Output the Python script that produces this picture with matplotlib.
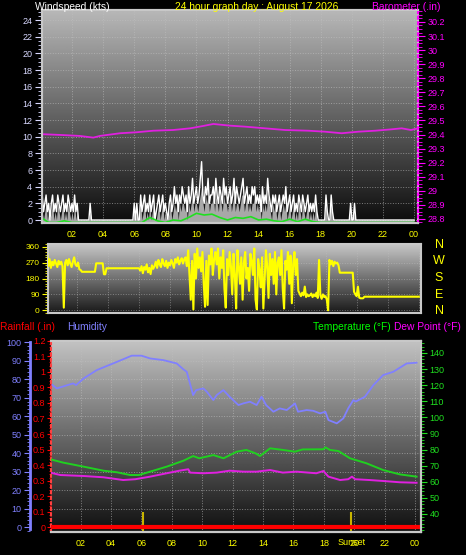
import numpy as np
import matplotlib.pyplot as plt
from matplotlib.ticker import MultipleLocator

plt.rcParams['font.family'] = ['Liberation Sans', 'DejaVu Sans']

W, H = 466, 555
title = '24 hour graph day : August 17 2026'
time_ticks = list(range(2, 25, 2))
time_labels = ['02', '04', '06', '08', '10', '12', '14', '16', '18', '20', '22', '00']
baro_ticks = [28.8, 28.9, 29.0, 29.1, 29.2, 29.3, 29.4, 29.5, 29.6, 29.7, 29.8, 29.9, 30.0, 30.1, 30.2]
baro_labels = ['28.8', '28.9', '29', '29.1', '29.2', '29.3', '29.4', '29.5', '29.6', '29.7',
               '29.8', '29.9', '30', '30.1', '30.2']
rain_ticks = [0, 0.1, 0.2, 0.3, 0.4, 0.5, 0.6, 0.7, 0.8, 0.9, 1.0, 1.1, 1.2]
rain_labels = ['0', '0.1', '0.2', '0.3', '0.4', '0.5', '0.6', '0.7', '0.8', '0.9', '1', '1.1', '1.2']

# wind speed (kts), 5 minute samples, one row per hour
gust = [0, 3, 1, 2, 3, 1, 2, 0, 2, 3, 1, 2,
        1, 3, 2, 1, 2, 3, 1, 2, 1, 3, 2, 1,
        2, 1, 3, 1, 2, 0, 0, 0, 0, 0, 0, 0,
        0, 0, 2, 0, 0, 0, 0, 0, 0, 0, 0, 0,
        0, 0, 0, 0, 0, 0, 0, 0, 0, 0, 0, 0,
        0, 0, 0, 0, 0, 0, 0, 0, 0, 0, 0, 0,
        2, 0, 2, 0, 0, 3, 1, 2, 3, 1, 2, 1,
        3, 1, 2, 3, 0, 1, 2, 3, 1, 2, 3, 1,
        2, 1, 0, 2, 3, 1, 2, 4, 2, 3, 1, 3,
        2, 4, 3, 2, 3, 1, 4, 2, 3, 5, 2, 3,
        4, 2, 3, 5, 7, 3, 2, 4, 3, 5, 2, 3,
        3, 4, 2, 5, 3, 2, 4, 3, 2, 5, 3, 4,
        2, 3, 4, 2, 3, 5, 2, 4, 3, 2, 3, 4,
        5, 2, 3, 4, 2, 3, 2, 4, 3, 4, 2, 3,
        2, 3, 1, 4, 2, 3, 2, 5, 3, 2, 1, 3,
        2, 3, 1, 2, 3, 1, 2, 3, 2, 4, 1, 2,
        3, 1, 2, 3, 1, 2, 1, 3, 2, 1, 3, 2,
        1, 2, 3, 1, 2, 1, 2, 1, 3, 1, 0, 0,
        0, 0, 0, 0, 3, 1, 0, 0, 3, 1, 0, 0,
        0, 0, 0, 0, 0, 0, 0, 0, 0, 0, 0, 2,
        0, 0, 2, 0, 0, 0, 0, 0, 0, 0, 0, 0,
        0, 0, 0, 0, 0, 0, 0, 0, 0, 0, 0, 0,
        0, 0, 0, 0, 0, 0, 0, 0, 0, 0, 0, 0,
        0, 0, 0, 0, 0, 0, 0, 0, 0, 0, 0, 0,
        0]
speed = [0, 1, 0, 1, 2, 0, 1, 0, 1, 2, 0, 1,
         0, 2, 1, 0, 1, 2, 0, 1, 0, 2, 1, 0,
         1, 0, 2, 0, 1, 0, 0, 0, 0, 0, 0, 0,
         0, 0, 1, 0, 0, 0, 0, 0, 0, 0, 0, 0,
         0, 0, 0, 0, 0, 0, 0, 0, 0, 0, 0, 0,
         0, 0, 0, 0, 0, 0, 0, 0, 0, 0, 0, 0,
         1, 0, 1, 0, 0, 2, 0, 1, 2, 0, 1, 0,
         2, 0, 1, 2, 0, 0, 1, 2, 0, 1, 2, 0,
         1, 0, 0, 1, 2, 0, 1, 2, 1, 2, 0, 2,
         1, 2, 2, 1, 2, 0, 2, 1, 2, 3, 1, 2,
         2, 1, 2, 3, 4, 2, 1, 3, 2, 3, 1, 2,
         2, 3, 1, 3, 2, 1, 3, 2, 1, 3, 2, 2,
         1, 2, 3, 1, 2, 3, 1, 2, 2, 1, 2, 3,
         3, 1, 2, 3, 1, 2, 1, 2, 2, 3, 1, 2,
         1, 2, 0, 2, 1, 2, 1, 3, 2, 1, 0, 2,
         1, 2, 0, 1, 2, 0, 1, 2, 1, 2, 0, 1,
         2, 0, 1, 2, 0, 1, 0, 2, 1, 0, 2, 1,
         0, 1, 2, 0, 1, 0, 1, 0, 2, 0, 0, 0,
         0, 0, 0, 0, 2, 0, 0, 0, 2, 0, 0, 0,
         0, 0, 0, 0, 0, 0, 0, 0, 0, 0, 0, 1,
         0, 0, 1, 0, 0, 0, 0, 0, 0, 0, 0, 0,
         0, 0, 0, 0, 0, 0, 0, 0, 0, 0, 0, 0,
         0, 0, 0, 0, 0, 0, 0, 0, 0, 0, 0, 0,
         0, 0, 0, 0, 0, 0, 0, 0, 0, 0, 0, 0,
         0]
# average wind (green), half hourly
avg_wind = [0.3, -0.3, -0.3, -0.1, -0.3, -0.3, -0.3, -0.3, -0.3, -0.3, -0.3, -0.3,
            -0.3, -0.3, 0.3, -0.1, -0.3, 0.0, -0.1, 0.3, 0.8, 0.6, 0.7, 0.3,
            0.0, 0.3, 0.2, 0.4, 0.0, 0.1, -0.1, -0.2, 0.1, -0.2, 0.1, -0.2,
            -0.3, -0.3, -0.3, -0.3, -0.3, -0.3, -0.3, -0.3, -0.3, -0.3, -0.3, -0.3, -0.3]

# barometer (in)
baro_h = [0.15, 1.23, 2.5, 3.37, 3.8, 5.09, 6.16, 7.23, 8.5, 9.6, 10.45, 11.09, 11.7,
          12.16, 13.12, 14.41, 15.7, 17.2, 18.27, 19.34, 20.4, 21.5, 22.56, 23.2, 23.8, 24.25]
baro = [29.402, 29.397, 29.39, 29.378, 29.39, 29.409, 29.416, 29.427, 29.432, 29.444, 29.461,
        29.475, 29.468, 29.463, 29.456, 29.444, 29.432, 29.427, 29.42, 29.409, 29.42, 29.427,
        29.437, 29.444, 29.432, 29.444]

# wind direction (deg), 5 minute samples
wdir = [270, 330, 250, 290, 240, 275, 255, 285, 265, 245, 280, 260,
        275, 250, 15, 270, 285, 255, 290, 265, 245, 275, 300, 260,
        250, 270, 232, 228, 218, 218, 218, 218, 218, 218, 218, 218,
        218, 218, 218, 266, 266, 266, 266, 266, 266, 204, 204, 238,
        238, 238, 238, 238, 238, 238, 238, 238, 238, 238, 238, 238,
        238, 238, 238, 238, 238, 238, 238, 238, 238, 238, 238, 238,
        238, 225, 250, 210, 245, 230, 260, 215, 240, 205, 255, 235,
        250, 275, 240, 285, 260, 245, 290, 265, 250, 280, 240, 270,
        255, 285, 265, 240, 290, 270, 300, 260, 280, 295, 265, 290,
        300, 250, 340, 200, 60, 280, 5, 320, 180, 350, 240, 300,
        220, 330, 150, 20, 280, 30, 310, 260, 350, 200, 290, 330,
        260, 350, 180, 300, 240, 340, 120, 15, 290, 200, 330, 250,
        90, 320, 200, 10, 340, 250, 150, 300, 60, 270, 330, 180,
        240, 110, 320, 280, 200, 350, 60, 5, 290, 230, 130, 300,
        10, 180, 340, 250, 70, 320, 200, 290, 150, 330, 90, 270,
        300, 200, 340, 120, 10, 280, 230, 330, 150, 310, 40, 260,
        330, 200, 290, 110, 95, 80, 100, 85, 134, 75, 90, 80,
        85, 95, 75, 90, 80, 100, 70, 285, 85, 65, 90, 75,
        80, 60, 0, 285, 260, 280, 250, 275, 265, 270, 255, 213,
        213, 213, 213, 213, 213, 213, 213, 213, 213, 213, 105, 90,
        80, 134, 72, 68, 68, 68, 77, 77, 77, 77, 77, 77,
        77, 77, 77, 77, 77, 77, 77, 77, 77, 77, 77, 77,
        77, 77, 77, 77, 77, 77, 77, 77, 77, 77, 77, 77,
        77, 77, 77, 77, 77, 77, 77, 77, 77, 77, 77, 77,
        77]

# humidity (%)
hum_h = [0.0, 0.43, 1.5, 1.7, 2.2, 3.06, 4.4, 5.36, 6.0, 6.57, 7.44, 8.32, 8.76, 8.98, 9.4,
         9.6, 10.07, 10.3, 10.73, 10.95, 11.39, 11.8, 12.38, 12.7, 13.14, 13.58, 13.9, 14.2,
         14.68, 15.1, 15.56, 16.1, 16.3, 16.87, 17.3, 17.75, 18.1, 18.3, 18.85, 19.28, 19.6,
         19.94, 20.1, 20.7, 21.26, 21.9, 22.57, 23.45, 24.1]
hum = [77.8, 75.1, 77.8, 76.9, 80.5, 85, 89.5, 92.8, 92.8, 91.3, 90.4, 88.6, 85.4, 84.1, 71.5,
       74.2, 75.1, 73.3, 68.8, 71.5, 74.2, 70.6, 66.1, 67, 67.9, 66.1, 70.6, 66.1,
       62.5, 64.3, 63.4, 67, 62.5, 63.4, 63, 61.6, 62.5, 58, 56.2, 58.9, 64.3,
       68.8, 68, 70.6, 76.9, 82.3, 84.1, 88.6, 89]

# temperature (F)
temp_h = [0.0, 0.86, 2.2, 3.5, 4.4, 5.25, 5.84, 6.57, 7.66, 8.76, 9.4, 9.8, 10.73, 11.4,
          12.27, 12.9, 13.5, 13.8, 14.46, 15.3, 16.1, 16.6, 17.97, 18.1, 18.4, 18.96,
          19.72, 20.8, 21.9, 23.0, 24.1]
temp = [74, 71.9, 69.4, 66.9, 65.9, 64.2, 64.2, 66.3, 69.4, 73.1, 76, 74.6, 76.6, 74.6,
        78.7, 79.8, 77.7, 76, 80.8, 79.8, 78.7, 80.1, 80.2, 81.4, 79.8, 79.1,
        74.6, 71.5, 67.3, 64.6, 63.2]

# dew point (F)
dew_h = [0.0, 0.66, 2.2, 3.5, 4.8, 5.6, 6.57, 7.66, 8.5, 9.08, 9.2, 10.07, 10.95, 11.8,
         12.7, 13.58, 14.46, 15.3, 16.2, 17.5, 17.97, 18.3, 19.07, 19.6, 19.85, 20.05,
         21.0, 21.9, 23.0, 24.1]
dew = [65.7, 64.2, 63.6, 62.8, 61.1, 61.6, 63.2, 65.3, 66.9, 67.8, 65.7, 65.3, 65.7, 66.9,
       66.3, 66.3, 67.3, 65.7, 66.3, 65.3, 66.7, 63.2, 61.1, 61.6, 63.2, 61.6,
       61.1, 60.5, 59.7, 59.4]

rain_h = [0.0, 24.4]
rain = [0.0, 0.0]
sunrise, sunset = 6.08, 19.8

YEL = '#ffff00'
MAG = '#ff00ff'
GRN = '#00ff00'
BLU = '#8080ff'
FS = 7.4


def add_bg(ax, lo, hi):
    g = np.linspace(lo, hi, 256).reshape(-1, 1)
    ax.imshow(g, extent=[0, 1, 0, 1], transform=ax.transAxes, aspect='auto',
              cmap='gray', vmin=0, vmax=1, origin='lower', zorder=0)


def frame(ax, col='#c8c8c8'):
    for s in ax.spines.values():
        s.set_color(col)
        s.set_linewidth(1.5)


fig = plt.figure(figsize=(W / 100, H / 100), dpi=100, facecolor='black')

# ---- windspeed / barometer ----
ax1 = fig.add_axes([42 / W, 1 - 223 / H, 376 / W, 213 / H])
ax1.set_facecolor('black')
add_bg(ax1, 0.05, 0.72)
ax1.set_xlim(0.07, 24.25)
ax1.set_ylim(-0.36, 25.2)
wind_h = np.arange(len(gust)) / 12.0
ax1.fill_between(wind_h, speed, -0.36, color='#a8a8a8', lw=0, zorder=2)
ax1.plot(wind_h, gust, color='white', lw=1, zorder=3)
ax1.plot(np.arange(len(avg_wind)) / 2.0, avg_wind, color='#20e020', lw=1.2, zorder=4)
ax1.set_xticks(time_ticks)
ax1.set_xticklabels(time_labels)
ax1.yaxis.set_major_locator(MultipleLocator(2))
ax1.yaxis.set_minor_locator(MultipleLocator(0.5))
ax1.tick_params(axis='x', length=0, colors=YEL, labelsize=6.5, pad=5)
ax1.tick_params(axis='y', which='both', colors='#d8d8ff', labelsize=6.5, direction='out')
ax1.tick_params(axis='y', which='major', length=5, pad=2)
ax1.tick_params(axis='y', which='minor', length=3)
ax1.grid(True, color='#c0c0c0', ls=':', lw=0.7, alpha=0.6)
frame(ax1)
ax1.spines['bottom'].set_color('#c8f0c8')

ax1b = ax1.twinx()
ax1b.set_ylim(28.771, 30.285)
ax1b.plot(baro_h, baro, color='#e020e0', lw=1.3)
ax1b.yaxis.set_minor_locator(MultipleLocator(0.025))
ax1b.set_yticks(baro_ticks)
ax1b.set_yticklabels(baro_labels)
ax1b.tick_params(axis='y', which='both', colors=MAG, labelsize=6.5, direction='out')
ax1b.tick_params(axis='y', which='major', length=5, pad=2)
ax1b.tick_params(axis='y', which='minor', length=3)
frame(ax1b)
ax1b.spines['right'].set_color(MAG)
ax1b.spines['right'].set_linestyle(':')

fig.text(72 / W, 1 - 7 / H, 'Windspeed (kts)', color='white', fontsize=FS, ha='center', va='center')
fig.text(257 / W, 1 - 7 / H, title, color=YEL, fontsize=FS, ha='center', va='center')
fig.text(440 / W, 1 - 7 / H, 'Barometer (.in)', color=MAG, fontsize=FS, ha='right', va='center')

# ---- wind direction ----
ax2 = fig.add_axes([48 / W, 1 - 313 / H, 373 / W, 69 / H])
ax2.set_facecolor('black')
add_bg(ax2, 0.1, 0.78)
ax2.set_xlim(0.15, 24.14)
ax2.set_ylim(-15.3, 375.3)
ax2.plot(np.arange(len(wdir)) / 12.0, wdir, color=YEL, lw=1.5, zorder=3)
ax2.set_xticks(time_ticks)
ax2.set_xticklabels([])
ax2.set_yticks([0, 90, 180, 270, 360])
ax2.yaxis.set_minor_locator(MultipleLocator(15))
ax2.tick_params(axis='x', length=0)
ax2.tick_params(axis='y', which='both', colors=YEL, labelsize=6, direction='out')
ax2.tick_params(axis='y', which='major', length=4, pad=2)
ax2.tick_params(axis='y', which='minor', length=2.5)
ax2.grid(True, color='#c0c0c0', ls=':', lw=0.7, alpha=0.5)
frame(ax2)
for lab, yy in zip(['N', 'W', 'S', 'E', 'N'], [245, 261, 278, 295, 311]):
    fig.text(439 / W, 1 - yy / H, lab, color=YEL, fontsize=9, ha='center', va='center')

# ---- rain / humidity / temperature ----
fig.text(0, 1 - 327 / H, 'Rainfall (.in)', color='#ff0000', fontsize=FS, ha='left', va='center')
fig.text(67 / W, 1 - 327 / H, 'Humidity', color=BLU, fontsize=FS, ha='left', va='center')
fig.text(391 / W, 1 - 327 / H, 'Temperature (°F)', color=GRN, fontsize=FS, ha='right', va='center')
fig.text(394 / W, 1 - 327 / H, 'Dew Point (°F)', color=MAG, fontsize=FS, ha='left', va='center')

ax3 = fig.add_axes([51 / W, 1 - 531.7 / H, 370 / W, 191 / H])
ax3.set_facecolor('black')
add_bg(ax3, 0.06, 0.76)
ax3.set_xlim(0.05, 24.39)
ax3.set_ylim(-2.38, 100.9)
ax3.plot(hum_h, hum, color=BLU, lw=1.3, zorder=3)
ax3.set_xticks(time_ticks)
ax3.set_xticklabels(time_labels)
ax3.yaxis.set_major_locator(MultipleLocator(10))
ax3.yaxis.set_minor_locator(MultipleLocator(2))
ax3.tick_params(axis='x', length=0, colors=YEL, labelsize=6.5, pad=5)
ax3.tick_params(axis='y', which='both', colors=BLU, labelsize=6.5, direction='out')
ax3.tick_params(axis='y', which='major', length=4, pad=2)
ax3.tick_params(axis='y', which='minor', length=2.5)
ax3.grid(True, color='#c0c0c0', ls=':', lw=0.7, alpha=0.6)
frame(ax3)
ax3.spines['left'].set_position(('outward', 21 * 0.72))
ax3.spines['left'].set_color(BLU)
ax3.spines['left'].set_linewidth(2)
ax3.spines['left'].set_bounds(-1, 100)
ax3.text(19.8, -0.055, 'Sunset', transform=ax3.get_xaxis_transform(), color=YEL,
         fontsize=6.5, ha='center', va='center')

axr = ax3.twinx()
axr.set_ylim(-0.0282, 1.196)
axr.plot(rain_h, rain, color='#ff0000', lw=3, zorder=4)
axr.vlines([sunrise, sunset], -0.0282, 0.1, color='#c8b400', lw=1.5)
axr.yaxis.set_ticks_position('left')
axr.yaxis.set_label_position('left')
axr.set_yticks(rain_ticks)
axr.set_yticklabels(rain_labels)
axr.yaxis.set_minor_locator(MultipleLocator(0.02))
axr.tick_params(axis='y', which='both', colors='#ff0000', labelsize=6.5, direction='out')
axr.tick_params(axis='y', which='major', length=3, pad=1)
axr.tick_params(axis='y', which='minor', length=1.5)
frame(axr)
axr.spines['left'].set_color('#ff4040')
axr.spines['left'].set_linestyle(':')
axr.spines['right'].set_visible(False)

axt = ax3.twinx()
axt.set_ylim(29.0, 147.64)
axt.plot(temp_h, temp, color='#20d020', lw=1.4, zorder=4)
axt.plot(dew_h, dew, color='#e020e0', lw=1.4, zorder=4)
axt.set_yticks(np.arange(40, 141, 10))
axt.yaxis.set_minor_locator(MultipleLocator(2))
axt.tick_params(axis='y', which='both', colors='#20e020', labelsize=6.5, direction='out')
axt.tick_params(axis='y', which='major', length=4, pad=2)
axt.tick_params(axis='y', which='minor', length=2)
frame(axt)
axt.spines['left'].set_visible(False)

fig.savefig('out.png', dpi=100, facecolor='black')
